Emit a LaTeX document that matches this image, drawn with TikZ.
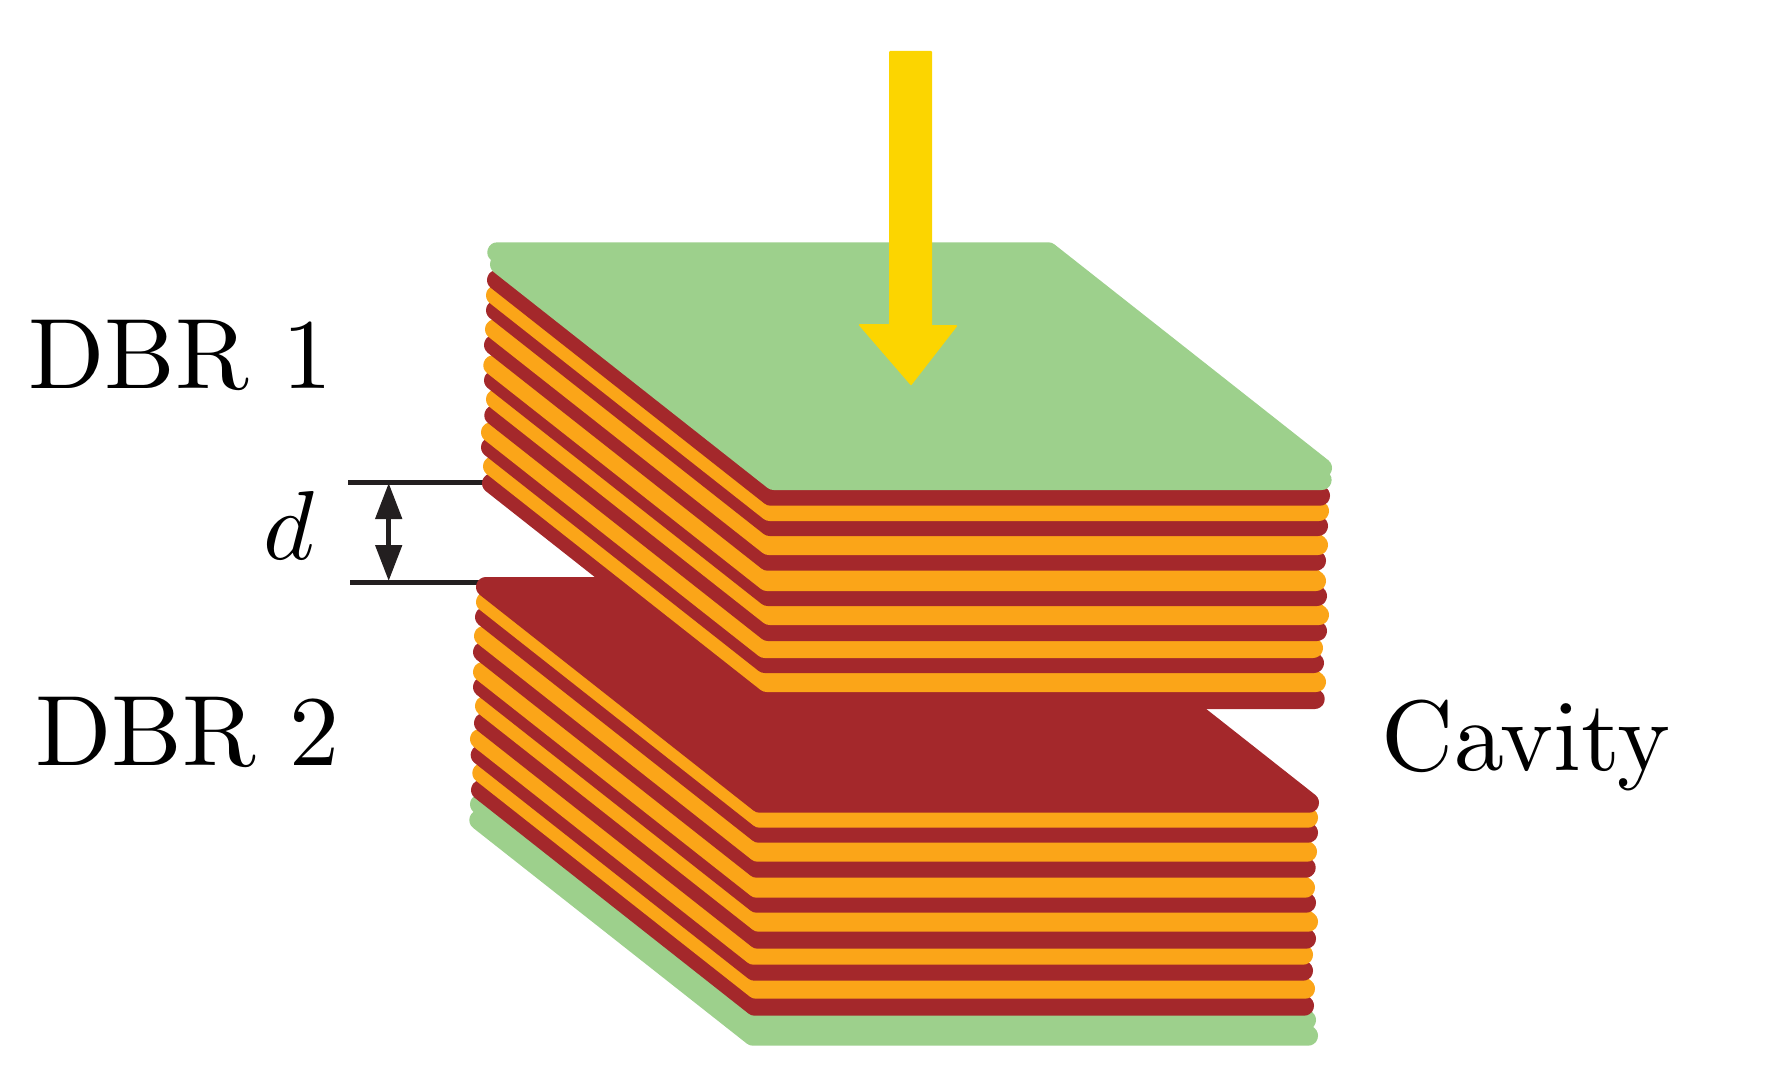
\documentclass[tikz,border=0pt]{standalone}
\usetikzlibrary{arrows.meta}
\definecolor{lgreen}{HTML}{9DD08C}
\definecolor{lred}{HTML}{A4282B}
\definecolor{lorange}{HTML}{FBA518}
\definecolor{lyellow}{HTML}{FCD500}
\definecolor{lblack}{HTML}{231F20}
\font\bigrm=cmr10 at 100pt
\font\bigmi=cmmi10 at 98pt
\newcommand{\layerband}[4]{%
  \path[layerbox,draw=#1,fill=#1] ({#2+10},{#4-225.7}) -- ({#2+283.7},{#4-10}) -- ({#3-10},{#4-10}) -- ({#3-283.7},{#4-225.7}) -- cycle;}
\tikzset{
  layerbox/.style={line width=20pt,line join=round},
  biglabel/.style={anchor=base west,inner sep=0pt,text=black,font=\bigrm},
  dimline/.style={draw=lblack,line width=5pt},
  dimarrow/.style={draw=lblack,line width=5pt,{Triangle[length=36pt,width=26pt,fill=lblack]}-{Triangle[length=36pt,width=26pt,fill=lblack]},shorten >=0pt,shorten <=0pt},
  beam/.style={fill=lyellow,draw=lyellow,line width=2pt,line join=round}
}
\begin{document}
\begin{tikzpicture}[x=1pt,y=-1pt]
\useasboundingbox (0,0) rectangle (1768,1081);
% dimension lines, behind the stacks
\coordinate (t1) at (348,482.3);
\coordinate (t2) at (495,482.3);
\coordinate (b1) at (350,582.3);
\coordinate (b2) at (490,582.3);
\coordinate (atop) at (388.7,483);
\coordinate (abot) at (388.7,581);
\draw[dimline] (t1) -- (t2);
\draw[dimline] (b1) -- (b2);
\draw[dimarrow] (atop) -- (abot);
% lower mirror, bottom layer first
\layerband{lgreen}{469.3}{1318}{1045.7}
\layerband{lgreen}{470}{1316}{1030}
\layerband{lred}{471}{1314}{1015.7}
\layerband{lorange}{472.3}{1315}{998.7}
\layerband{lred}{470.7}{1313}{980.7}
\layerband{lorange}{470}{1313}{964.7}
\layerband{lred}{474}{1316}{948.7}
\layerband{lorange}{475}{1318}{931.7}
\layerband{lred}{473}{1316}{912.7}
\layerband{lorange}{473}{1315}{897.7}
\layerband{lred}{473}{1315.7}{877.7}
\layerband{lorange}{474}{1317}{861.7}
\layerband{lred}{475}{1318}{842.7}
\layerband{lorange}{476}{1318}{827.7}
\layerband{lred}{476}{1319}{812.7}
% upper mirror, bottom layer first
\layerband{lred}{482}{1324.7}{709}
\layerband{lorange}{483}{1326}{692}
\layerband{lred}{481}{1324}{673}
\layerband{lorange}{481}{1323}{658}
\layerband{lred}{484.3}{1327}{641}
\layerband{lorange}{486}{1329}{625}
\layerband{lred}{484}{1327}{606}
\layerband{lorange}{483.3}{1326}{591}
\layerband{lred}{484}{1326}{570.7}
\layerband{lorange}{485}{1328}{555}
\layerband{lred}{486}{1328}{536}
\layerband{lorange}{486}{1329}{521}
\layerband{lred}{487}{1330}{505.7}
\layerband{lgreen}{490}{1331.6}{490}
\layerband{lgreen}{487.3}{1332}{478}
% incoming beam
\path[beam] (890,52) -- (931,52) -- (931,326) -- (956,326) -- (911,384) -- (860,325) -- (890,325) -- cycle;
% labels
\node[biglabel] (dbr1) at (28,388) {DBR 1};
\node[biglabel] (dbr2) at (35,765) {DBR 2};
\node[biglabel] (cav) at (1381,770) {Cavity};
\node[biglabel,font=\bigmi] (dlab) at (263,559) {d};
\end{tikzpicture}
\end{document}
